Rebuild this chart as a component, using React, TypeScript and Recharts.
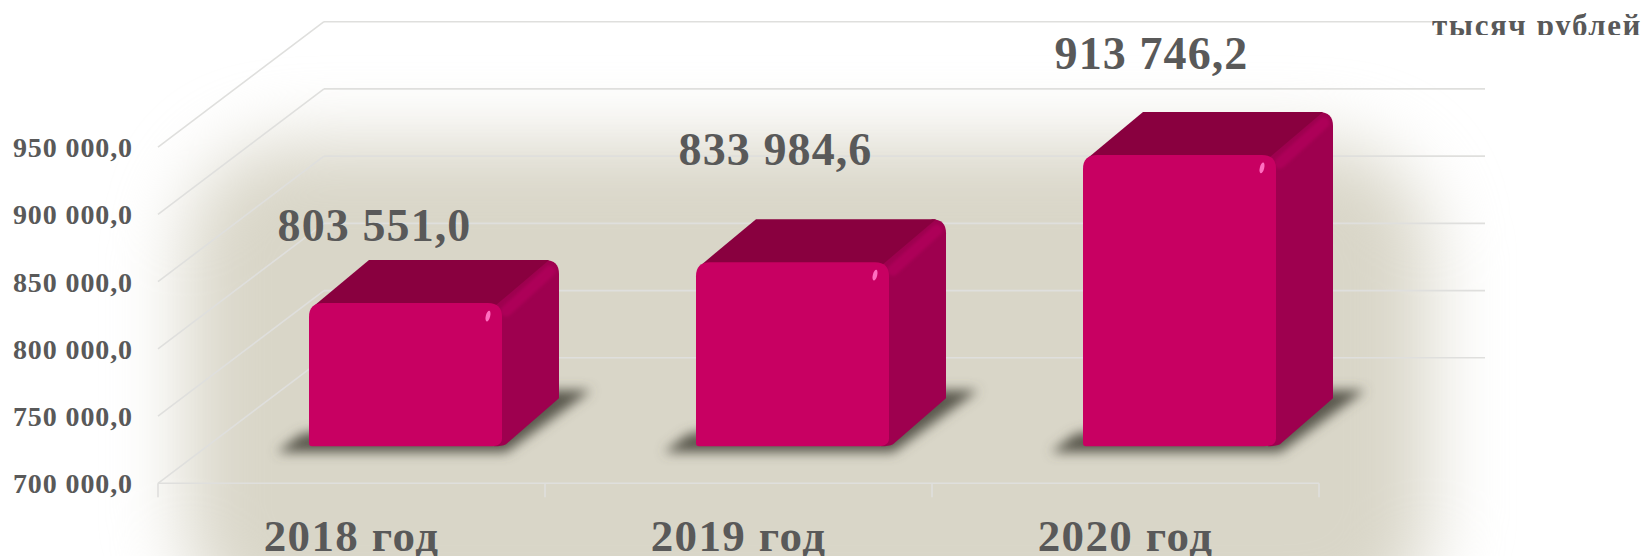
import { Bar, BarChart, CartesianGrid, LabelList, XAxis, YAxis } from "recharts"

const categories = ["2018 год", "2019 год", "2020 год"]
const values = [803551.0, 833984.6, 913746.2]
const yTicks = [700000, 750000, 800000, 850000, 900000, 950000]

// hand placed data labels in the original, offset from the top middle of each bar
const labelShiftX = [23, 37, 26]
const labelShiftY = [-103, -138, -127]

const data = categories.map((name, i) => ({ name, value: values[i] }))

const W = 1649
const H = 556
const PLOT = { top: 147.2, bottom: 483.3, left: 158, right: 1319 }
const WALL_DX = 166
const WALL_DY = 125.5
const BAND = (PLOT.right - PLOT.left) / categories.length

const TEXT = "#595959"
const GRID = "#dfdfdd"
const FONT = "'Liberation Serif', serif"

const fmt = (v: number) => {
  const [whole, frac] = v.toFixed(1).split(".")
  return `${whole.replace(/\B(?=(\d{3})+$)/g, " ")},${frac}`
}

function WallLine({ x1, y1, x2 }: any) {
  const isFloor = y1 > PLOT.bottom - 1
  return (
    <g stroke={GRID} strokeWidth={1.6} fill="none">
      <line x1={x1} y1={y1} x2={x1 + WALL_DX} y2={y1 - WALL_DY} />
      <line x1={x1 + WALL_DX} y1={y1 - WALL_DY} x2={x2 + WALL_DX} y2={y1 - WALL_DY} />
      {isFloor && <line x1={x1} y1={y1} x2={x2} y2={y1} />}
    </g>
  )
}

function Box3D({ x, y, width, height }: any) {
  const dx = 57
  const dy = 43
  const L = x + 54
  const R = L + width
  const T = y - 41
  const B = y + height - 37
  const front = `M${L + 14},${T} L${R - 14},${T} Q${R},${T} ${R},${T + 14} L${R},${B - 8} Q${R},${B} ${R - 12},${B} L${L + 3},${B} Q${L},${B} ${L},${B - 3} L${L},${T + 14} Q${L},${T} ${L + 14},${T} Z`
  const top = `M${L + 6},${T + 2} L${L + dx + 3},${T - dy} L${R + dx - 10},${T - dy} L${R - 6},${T + 2} Z`
  const side = `M${R - 8},${T + 1} L${R + dx - 14},${T - dy} Q${R + dx},${T - dy} ${R + dx},${T - dy + 14} L${R + dx},${B - 48} L${R + 4},${B - 2} Q${R},${B} ${R - 8},${B} Z`
  return (
    <g>
      <path
        d={`M${L - 32},${B + 6} L${R + 4},${B + 6} L${R + dx + 32},${B - 56} L${R + dx - 12},${B - 56} L${L - 8},${B - 12} Z`}
        fill="#5a584e"
        filter="url(#shadowBlur)"
      />
      <path d={side} fill="#9e004f" />
      <line
        x1={R + 4}
        y1={T + 8}
        x2={R + dx - 9}
        y2={T - dy + 11}
        stroke="#ad0058"
        strokeWidth={11}
        strokeLinecap="round"
        filter="url(#edgeBlur)"
      />
      <path d={top} fill="#89003f" />
      <path d={front} fill="#c80062" />
      <ellipse cx={R - 14} cy={T + 13} rx={2.2} ry={5.5} fill="#ff6ec0" transform={`rotate(14 ${R - 14} ${T + 13})`} />
    </g>
  )
}

function DataLabel({ x, y, width, value, index }: any) {
  return (
    <text
      x={x + width / 2 + labelShiftX[index]}
      y={y + labelShiftY[index]}
      textAnchor="middle"
      fill={TEXT}
      fontFamily={FONT}
      fontWeight="bold"
      fontSize={46}
      letterSpacing={1.1}
    >
      {fmt(value)}
    </text>
  )
}

function CategoryTick({ x, payload, index }: any) {
  return (
    <g>
      <line x1={x - BAND / 2} y1={PLOT.bottom} x2={x - BAND / 2} y2={PLOT.bottom + 14} stroke={GRID} strokeWidth={1.6} />
      {index === categories.length - 1 && (
        <line x1={x + BAND / 2} y1={PLOT.bottom} x2={x + BAND / 2} y2={PLOT.bottom + 14} stroke={GRID} strokeWidth={1.6} />
      )}
      <text x={x} y={551} textAnchor="middle" fill={TEXT} fontFamily={FONT} fontWeight="bold" fontSize={45} letterSpacing={1.4}>
        {payload.value}
      </text>
    </g>
  )
}

export default function App() {
  return (
    <div style={{ position: "absolute", left: 0, top: 0, width: W, height: H, overflow: "hidden", background: "#fff" }}>
      <div
        style={{
          position: "absolute",
          left: 185,
          top: 142,
          width: 1245,
          height: 490,
          background: "#d9d6c8",
          borderRadius: 110,
          filter: "blur(36px)",
        }}
      />
      <div style={{ position: "absolute", left: 0, top: 0 }}>
        <BarChart
          width={W}
          height={H}
          data={data}
          margin={{ top: PLOT.top, bottom: 0, left: 0, right: W - PLOT.right }}
          barCategoryGap={0}
        >
          <defs>
            <filter id="shadowBlur" x="-30%" y="-50%" width="160%" height="200%">
              <feGaussianBlur stdDeviation="6" />
            </filter>
            <filter id="edgeBlur" x="-30%" y="-30%" width="160%" height="160%">
              <feGaussianBlur stdDeviation="1.5" />
            </filter>
          </defs>
          <CartesianGrid vertical={false} horizontal={(p: any) => <WallLine key={p.key} {...p} />} />
          <XAxis
            dataKey="name"
            height={H - PLOT.bottom}
            axisLine={false}
            tickLine={false}
            interval={0}
            tick={(p: any) => <CategoryTick {...p} />}
          />
          <YAxis
            domain={[700000, 950000]}
            ticks={yTicks}
            width={PLOT.left}
            axisLine={false}
            tickLine={false}
            tickMargin={19}
            tickFormatter={fmt}
            tick={{ fill: TEXT, fontFamily: FONT, fontWeight: "bold", fontSize: 28, letterSpacing: 0.9 }}
          />
          <Bar dataKey="value" barSize={193} shape={(p: any) => <Box3D {...p} />} isAnimationActive={false}>
            <LabelList dataKey="value" content={(p: any) => <DataLabel {...p} />} />
          </Bar>
        </BarChart>
      </div>
      <div
        style={{
          position: "absolute",
          left: 1432,
          top: 0,
          width: 217,
          height: 35,
          overflow: "hidden",
          background: "#fff",
          color: TEXT,
          fontFamily: FONT,
          fontWeight: "bold",
          fontSize: 31,
          letterSpacing: 1.6,
          lineHeight: "52px",
          whiteSpace: "nowrap",
        }}
      >
        тысяч рублей
      </div>
    </div>
  )
}
